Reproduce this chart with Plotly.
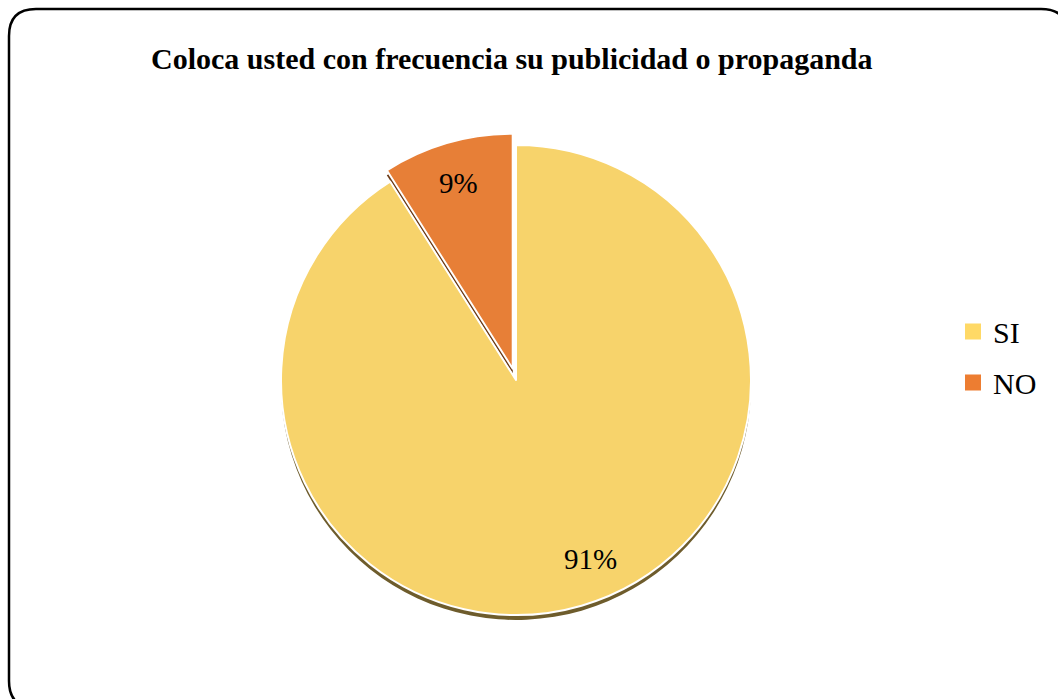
import math
import plotly.graph_objects as go

W, H = 1058, 699

# ---- data ----
labels = ["SI", "NO"]
values = [91, 9]
colors = ["#F7D36B", "#E77F37"]
legend_colors = ["#FFD966", "#ED7D31"]
pulls = [0, 0.05]
title_text = "Coloca usted con frecuencia su publicidad o propaganda"

FONT = "Liberation Serif, Times New Roman, serif"

# pie geometry (pixels)
cx, cy, r = 516, 380, 235
maxpull = max(pulls)
half = r * (1 + maxpull)

def px_x(x):
    return x / W

def px_y(y):
    return 1 - y / H

dom_x = [px_x(cx - half), px_x(cx + half)]
dom_y = [px_y(cy + half), px_y(cy - half)]

shadow_dy = 5
dom_y_sh = [px_y(cy + half + shadow_dy), px_y(cy - half + shadow_dy)]

fig = go.Figure()

# shadow pie
fig.add_trace(go.Pie(
    labels=labels, values=values, sort=False, direction="clockwise", rotation=0,
    pull=pulls, marker=dict(colors=["#6E5C2C", "#6B3A16"], line=dict(width=0)),
    textinfo="none", hoverinfo="skip", showlegend=False,
    domain=dict(x=dom_x, y=dom_y_sh),
))

# main pie
fig.add_trace(go.Pie(
    labels=labels, values=values, sort=False, direction="clockwise", rotation=0,
    pull=pulls, marker=dict(colors=colors, line=dict(color="white", width=2)),
    textinfo="none", showlegend=False,
    domain=dict(x=dom_x, y=dom_y),
))

# legend entries (square swatches)
for lab, col in zip(labels, legend_colors):
    fig.add_trace(go.Scatter(
        x=[None], y=[None], mode="markers", name=lab, legendgroup=lab,
        marker=dict(symbol="square", size=16, color=col),
        showlegend=True, hoverinfo="skip",
    ))

# labels placed near slice bisectors
total = sum(values)
start = 0.0
annotations = []
label_r = [0.785, 0.83]
label_dang = [-6.5, 0.0]  # degrees
for i, (lab, v) in enumerate(zip(labels, values)):
    frac = v / total
    mid = start + frac / 2
    start += frac
    ang = 2 * math.pi * mid + math.radians(label_dang[i])  # clockwise from top
    rr = r * (1 + maxpull) * label_r[i]
    x = cx + rr * math.sin(ang)
    y = cy - rr * math.cos(ang)
    annotations.append(dict(
        x=px_x(x), y=px_y(y), xref="paper", yref="paper",
        text=f"{round(frac * 100)}%", showarrow=False,
        font=dict(family=FONT, size=29, color="black"),
        xanchor="center", yanchor="middle",
    ))

annotations.append(dict(
    x=px_x(512), y=px_y(58), xref="paper", yref="paper",
    text=f"<b>{title_text}</b>", showarrow=False,
    font=dict(family=FONT, size=30, color="black"),
    xanchor="center", yanchor="middle",
))

# rounded border
x0, y0, x1, y1, rad = 9, 9, 1068, 708, 27
path = (f"M {x0+rad},{y0} L {x1-rad},{y0} Q {x1},{y0} {x1},{y0+rad} "
        f"L {x1},{y1-rad} Q {x1},{y1} {x1-rad},{y1} L {x0+rad},{y1} "
        f"Q {x0},{y1} {x0},{y1-rad} L {x0},{y0+rad} Q {x0},{y0} {x0+rad},{y0} Z")

fig.update_layout(
    width=W, height=H,
    margin=dict(l=0, r=0, t=0, b=0),
    paper_bgcolor="white", plot_bgcolor="white",
    annotations=annotations,
    shapes=[dict(type="path", path=path, xref="x", yref="y",
                 line=dict(color="black", width=2.5), fillcolor="rgba(0,0,0,0)")],
    xaxis=dict(range=[0, W], visible=False, fixedrange=True),
    yaxis=dict(range=[H, 0], visible=False, fixedrange=True),
    legend=dict(x=px_x(953), y=px_y(357), xanchor="left", yanchor="middle",
                font=dict(family=FONT, size=30, color="black"),
                itemsizing="trace", tracegroupgap=9, itemwidth=30,
                bgcolor="rgba(0,0,0,0)"),
    showlegend=True,
)

fig.write_html("out.html")
